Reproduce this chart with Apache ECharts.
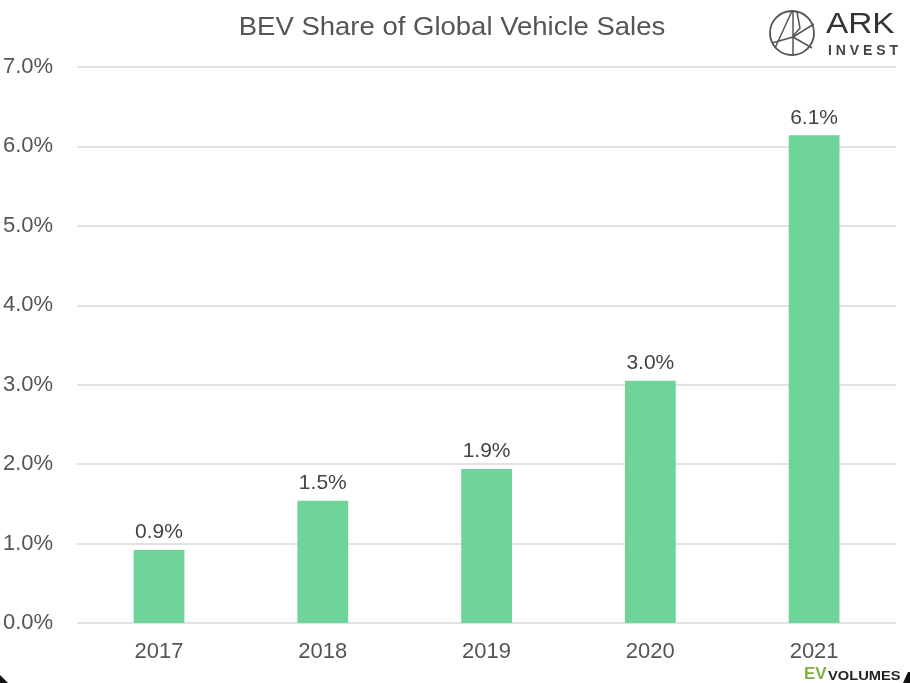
<!DOCTYPE html>
<html><head><meta charset="utf-8">
<script src="https://cdn.jsdelivr.net/npm/echarts@6/dist/echarts.min.js"></script>
<style>html,body{margin:0;padding:0;background:#fff}#c{width:910px;height:683px}</style>
</head><body><div id="c"></div>
<script>
const categories = ['2017','2018','2019','2020','2021'];
const shareValues = [0.92, 1.54, 1.94, 3.05, 6.14];
const shareLabels = ['0.9%','1.5%','1.9%','3.0%','6.1%'];

const chart = echarts.init(document.getElementById('c'));
const font = 'Helvetica, "Liberation Sans", Arial, sans-serif';
const ln = (pts, w) => ({type:'polyline',shape:{points:pts},style:{fill:'none',stroke:'#555',lineWidth:w||1.5}});
chart.setOption({
  animation:false,
  backgroundColor:'#fff',
  grid:{left:76,right:14,top:67,bottom:60},
  xAxis:{type:'category',data:categories,
    axisLine:{show:false},axisTick:{show:false},
    axisLabel:{color:'#555',fontSize:22,fontFamily:font,margin:18}},
  yAxis:{type:'value',min:0,max:7,interval:1,
    axisLabel:{color:'#555',fontSize:22,fontFamily:font,margin:24,formatter:v=>v.toFixed(1)+'%'},
    splitLine:{lineStyle:{color:'#d9d9d9',width:1.5}},axisLine:{show:false},axisTick:{show:false}},
  series:[{type:'bar',data:shareValues,barWidth:'31%',
    itemStyle:{color:'#6fd49a'},
    label:{show:true,position:'top',distance:7,color:'#444',fontSize:21,fontFamily:font,
      formatter:p=>shareLabels[p.dataIndex]}}],
  graphic:[
    {type:'text',x:452,y:28,scaleX:1.1,style:{text:'BEV Share of Global Vehicle Sales',fontFamily:font,fontSize:25,fill:'#555',align:'center',verticalAlign:'middle'}},
    {type:'circle',shape:{cx:792,cy:33,r:22},style:{fill:'none',stroke:'#555',lineWidth:1.8}},
    ln([[775,48],[792,11]]),
    ln([[793,11],[793,55]]),
    ln([[797,12],[800,28],[793,36]]),
    ln([[772,43],[793,37],[814,24]]),
    ln([[793,37],[812,48]]),
    {type:'text',x:826,y:10,scaleX:1.15,style:{text:'ARK',fontFamily:font,fontSize:29,fill:'#333'}},
    {type:'text',x:828,y:44,style:{text:'I N V E S T',fontFamily:font,fontSize:14,fill:'#444',fontWeight:'bold'}},
    {type:'text',x:804,y:666,style:{text:'EV',fontFamily:font,fontSize:17,fontWeight:'bold',fill:'#7cb342'}},
    {type:'text',x:828,y:670,scaleX:1.13,style:{text:'VOLUMES',fontFamily:font,fontSize:13,fontWeight:'bold',fill:'#222'}},
    {type:'polygon',shape:{points:[[903,683],[908,672],[910,672],[910,683]]},style:{fill:'#111'}},
    {type:'polygon',shape:{points:[[0,675],[8,683],[0,683]]},style:{fill:'#111'}}
  ]
});
</script></body></html>
